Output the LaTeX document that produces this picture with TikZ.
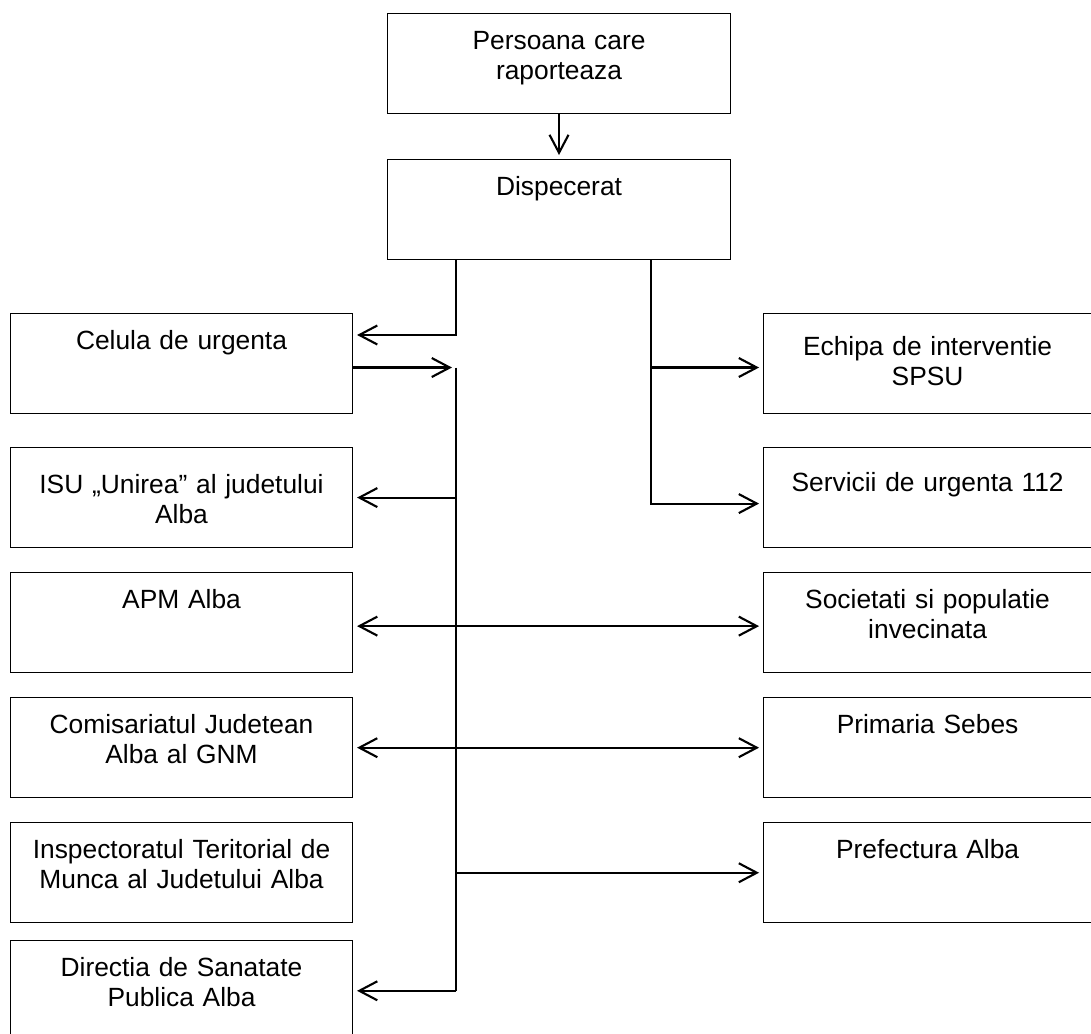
\documentclass[tikz,border=0pt]{standalone}
\usepackage{fontspec}
\setmainfont{Liberation Sans}
\usepackage{tikz}
\usetikzlibrary{arrows.meta, positioning}

\begin{document}
\begin{tikzpicture}[
    every node/.style={font=\fontsize{15}{16.8}\selectfont},
    box/.style={rectangle, draw, line width=0.6pt, inner sep=0pt, align=center, text height=0.72cm, text depth=1.28cm},
    topbox/.style={box, text width=6.86cm},
    leftbox/.style={box, text width=6.84cm},
    rightbox/.style={box, text width=6.56cm},
    bus/.style={line width=1.2pt},
    arr/.style={-{Straight Barb[length=3.6mm, width=3.8mm]}, line width=1.2pt, shorten >=0.08cm},
    darr/.style={{Straight Barb[length=3.6mm, width=3.8mm]}-{Straight Barb[length=3.6mm, width=3.8mm]}, line width=1.2pt, shorten >=0.08cm, shorten <=0.08cm}
]
\useasboundingbox (0,0) rectangle (21.82,-20.68);

% Top: reporter -> dispatch
\node[topbox, anchor=north west] (persoana) at (7.74,-0.26) {Persoana care\\raporteaza};
\node[topbox, below=0.9cm of persoana] (dispecerat) {Dispecerat};

% Left column
\node[leftbox, anchor=north west] (celula) at (0.2,-6.26) {Celula de urgenta};
\node[leftbox, below=0.66cm of celula, text height=0.92cm, text depth=1.08cm] (isu) {ISU „Unirea” al judetului\\Alba};
\node[leftbox, below=0.48cm of isu] (apm) {APM Alba};
\node[leftbox, below=0.48cm of apm] (comisariat) {Comisariatul Judetean\\Alba al GNM};
\node[leftbox, below=0.48cm of comisariat] (inspectorat) {Inspectoratul Teritorial de\\Munca al Judetului Alba};
\node[leftbox, below=0.34cm of inspectorat] (directia) {Directia de Sanatate\\Publica Alba};

% Right column
\node[rightbox, right=8.2cm of celula, text height=0.84cm, text depth=1.16cm] (echipa) {Echipa de interventie\\SPSU};
\node[rightbox, below=0.66cm of echipa, text height=0.88cm, text depth=1.12cm] (servicii) {Servicii de urgenta 112};
\node[rightbox, below=0.48cm of servicii] (societati) {Societati si populatie\\invecinata};
\node[rightbox, below=0.48cm of societati] (primaria) {Primaria Sebes};
\node[rightbox, below=0.48cm of primaria] (prefectura) {Prefectura Alba};

% Trunks
\coordinate (trunkL) at ([xshift=1.38cm]dispecerat.south west);
\coordinate (trunkR) at ([xshift=-1.6cm]dispecerat.south east);
\coordinate (celout) at ([yshift=-0.08cm]celula.east);

% Arrows
\draw[arr] (persoana) -- (dispecerat);
\draw[arr] (trunkL) |- ([yshift=-0.44cm]celula.north east);
\draw[arr] (trunkR) |- ([yshift=-0.08cm]echipa.west);
\draw[arr] (trunkR) |- ([yshift=-0.12cm]servicii.west);
\draw[arr] (celout) -- (trunkL |- celout);
\draw[bus] (trunkL |- celout) -- (trunkL |- directia.east);
\draw[arr] (trunkL |- isu.east) -- (isu.east);
\draw[darr] ([yshift=-0.07cm]apm.east) -- ([yshift=-0.07cm]societati.west);
\draw[darr] (comisariat.east) -- (primaria.west);
\draw[arr] (trunkL |- prefectura.west) -- (prefectura.west);
\draw[arr] (trunkL |- directia.east) -- (directia.east);

\end{tikzpicture}
\end{document}
